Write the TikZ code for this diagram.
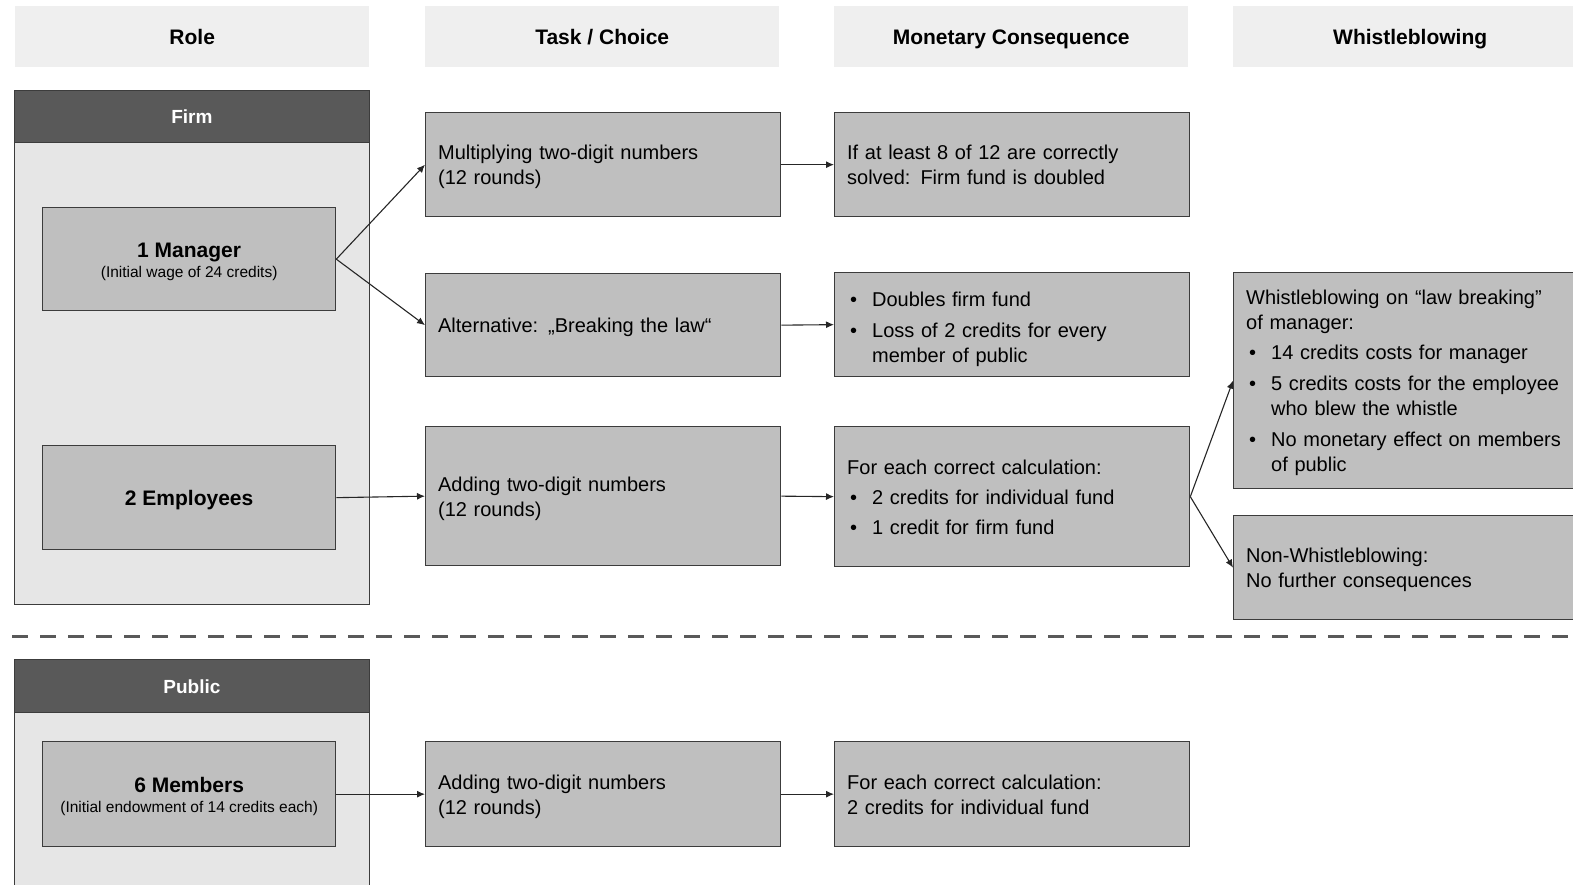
\documentclass[tikz,border=0pt]{standalone}
\usepackage{fontspec}
\setmainfont{Liberation Sans}
\usetikzlibrary{arrows.meta}
\definecolor{hdrfill}{HTML}{EFEFEF}
\definecolor{contfill}{HTML}{E6E6E6}
\definecolor{darkfill}{HTML}{595959}
\definecolor{boxfill}{HTML}{BFBFBF}
\definecolor{boxline}{HTML}{3C3C3C}
\definecolor{dashcol}{HTML}{595959}
\parindent=0pt
\newcommand\mystrut{\rule[-4.5pt]{0pt}{24pt}}
\newcommand\bpt[2][6pt]{\par\vspace{#1}\hangindent=25pt\hangafter=0\noindent\llap{\makebox[25pt][l]{\hspace{3pt}•}}\mystrut#2\mystrut\par}
\begin{document}
\begin{tikzpicture}[x=1pt,y=-1pt,
  every node/.style={font=\fontsize{20}{25}\selectfont},
  colhdr/.style={fill=hdrfill, minimum width=354pt, minimum height=61pt, anchor=north west, inner sep=0pt, font=\fontsize{21}{25}\selectfont\bfseries},
  container/.style={fill=contfill, draw=boxline, line width=0.8pt, anchor=north west, minimum width=355pt, inner sep=0pt},
  darkhdr/.style={fill=darkfill, draw=boxline, line width=0.8pt, anchor=north west, minimum width=355pt, inner sep=0pt, text=white, font=\fontsize{19}{23}\selectfont\bfseries},
  rolebox/.style={fill=boxfill, draw=boxline, line width=1.3pt, anchor=north west, minimum width=293pt, inner sep=0pt, align=center, font=\fontsize{21}{20}\selectfont\bfseries},
  txtbox/.style={fill=boxfill, draw=boxline, line width=1.3pt, anchor=north west, minimum width=355pt, text width=330pt, inner xsep=12.5pt, inner ysep=0pt, align=left},
  conn/.style={draw=black!85, line width=1.1pt, -{Latex[length=8pt,width=7pt]}},
]
\path[use as bounding box] (0,0) rectangle (1573,884);
\clip (0,0) rectangle (1573,884);
% column headers
\node[colhdr] (hrole) at (15,6) {\mystrut Role};
\node[colhdr] (htask) at (425,6) {\mystrut Task / Choice};
\node[colhdr] (hmon) at (834,6) {\mystrut Monetary Consequence};
\node[colhdr, minimum width=354pt] (hwb) at (1233,6) {\mystrut Whistleblowing};
% firm
\node[container, minimum height=514pt] (cfirm) at (14,90) {};
\node[darkhdr, minimum height=52pt] (hfirm) at (14,90) {\mystrut Firm};
\node[rolebox, minimum height=103pt] (mgr) at (42,207) {\mystrut 1 Manager\\{\mdseries\fontsize{15.5}{20}\selectfont (Initial wage of 24 credits)}};
\node[rolebox, minimum height=104pt] (emp) at (42,445) {\mystrut 2 Employees};
% tasks
\node[txtbox, minimum height=104pt] (mult) at (425,112) {\mystrut Multiplying two-digit numbers\\(12 rounds)\mystrut};
\node[txtbox, minimum height=103pt] (alt) at (425,273) {\mystrut Alternative: „Breaking the law“};
\node[txtbox, minimum height=139pt] (add) at (425,426) {\mystrut Adding two-digit numbers\\(12 rounds)\mystrut};
% monetary
\node[txtbox, minimum height=104pt] (mon1) at (834,112) {\mystrut If at least 8 of 12 are correctly\\solved: Firm fund is doubled\mystrut};
\node[txtbox, minimum height=104pt] (mon2) at (834,272) {\bpt[0pt]{Doubles firm fund}\bpt{Loss of 2 credits for every\newline member of public}};
\node[txtbox, minimum height=140pt] (mon3) at (834,426) {\mystrut For each correct calculation:\bpt[5pt]{2 credits for individual fund}\bpt[5pt]{1 credit for firm fund}};
% whistleblowing
\node[txtbox, minimum width=385pt, text width=360pt, minimum height=216pt] (wb) at (1233,272) {\mystrut Whistleblowing on “law breaking”\\of manager:\bpt[5pt]{14 credits costs for manager}\bpt{5 credits costs for the employee\newline who blew the whistle}\bpt{No monetary effect on members\newline of public}};
\node[txtbox, minimum width=385pt, text width=360pt, minimum height=104pt] (nwb) at (1233,515) {\mystrut Non-Whistleblowing:\\No further consequences\mystrut};
% separator
\draw[dashcol, line width=3pt, dash pattern=on 16pt off 12pt] (12,636) -- (1573,636);
% public
\node[container, minimum height=240pt] (cpub) at (14,659) {};
\node[darkhdr, minimum height=53pt] (hpub) at (14,659) {\mystrut Public};
\node[rolebox, minimum height=105pt] (mem) at (42,741) {\mystrut 6 Members\\{\mdseries\fontsize{15.5}{20}\selectfont (Initial endowment of 14 credits each)}};
\node[txtbox, minimum height=105pt] (addp) at (425,741) {\mystrut Adding two-digit numbers\\(12 rounds)\mystrut};
\node[txtbox, minimum height=105pt] (monp) at (834,741) {\mystrut For each correct calculation:\\2 credits for individual fund\mystrut};
% connectors
\draw[conn] (mgr.east) -- (mult.west);
\draw[conn] (mgr.east) -- (alt.west);
\draw[conn] (emp.east) -- (add.west);
\draw[conn] (mult.east) -- (mon1.west);
\draw[conn] (alt.east) -- (mon2.west);
\draw[conn] (add.east) -- (mon3.west);
\draw[conn] (mon3.east) -- (wb.west);
\draw[conn] (mon3.east) -- (nwb.west);
\draw[conn] (mem.east) -- (addp.west);
\draw[conn] (addp.east) -- (monp.west);
\end{tikzpicture}
\end{document}
